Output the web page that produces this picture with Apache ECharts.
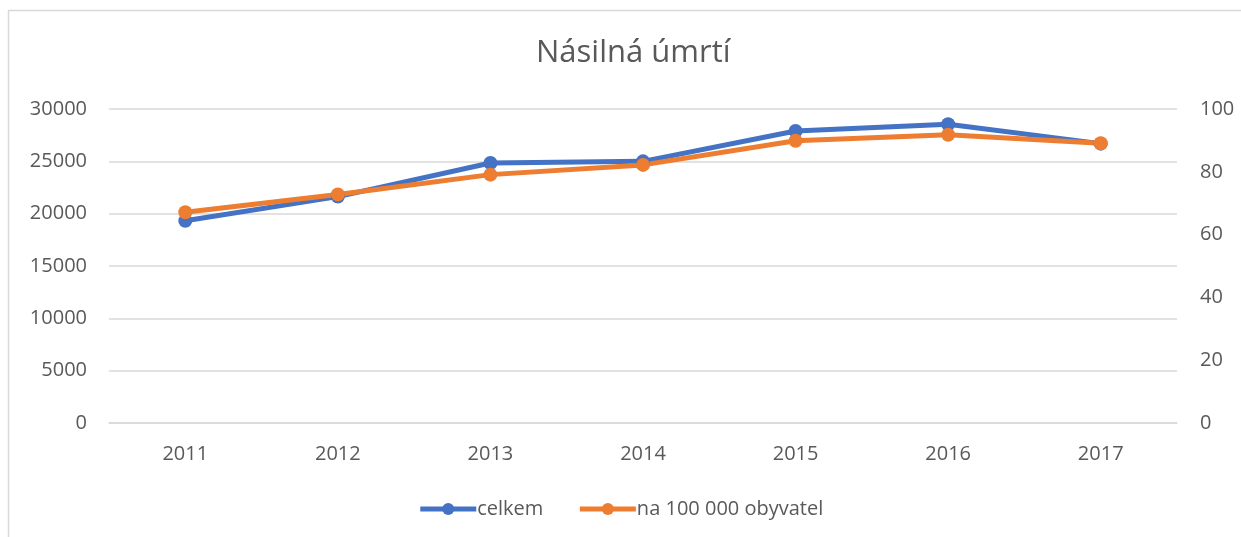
<!DOCTYPE html>
<html>
<head>
<meta charset="utf-8">
<script src="https://cdn.jsdelivr.net/npm/echarts@6/dist/echarts.min.js"></script>
<style>
  html, body { margin: 0; padding: 0; background: #fff; }
  #chart { width: 1241px; height: 537px; }
</style>
</head>
<body>
<div id="chart"></div>
<script>
  const years = ['2011', '2012', '2013', '2014', '2015', '2016', '2017']
  const celkem = [19330, 21630, 24840, 25000, 27900, 28540, 26690]
  const naSto = [67.1, 72.8, 79.1, 82.2, 89.9, 91.8, 89.1]

  const textColor = '#595959'
  const font = '"Open Sans", "Noto Sans", sans-serif'

  const chart = echarts.init(document.getElementById('chart'))
  chart.setOption({
    animation: false,
    textStyle: { fontFamily: font, color: textColor },
    graphic: [
      {
        type: 'rect',
        shape: { x: 8.5, y: 10.5, width: 1300, height: 600 },
        style: { fill: 'none', stroke: '#d9d9d9', lineWidth: 1.5 },
        silent: true,
      },
    ],
    title: {
      text: 'Násilná úmrtí',
      left: 531,
      top: 33,
      textStyle: { fontFamily: font, fontSize: 31, fontWeight: 'normal', color: textColor },
    },
    grid: { left: 109, right: 64, top: 109, bottom: 114 },
    legend: {
      bottom: 13,
      left: 'center',
      itemWidth: 56,
      itemHeight: 15,
      itemGap: 34,
      lineStyle: { width: 5 },
      textStyle: { fontFamily: font, fontSize: 20, color: textColor, padding: [0, 0, 0, -4] },
      data: ['celkem', 'na 100 000 obyvatel'],
    },
    xAxis: {
      type: 'category',
      data: years,
      axisLine: { lineStyle: { color: '#d9d9d9', width: 1.5 } },
      axisTick: { show: false },
      axisLabel: { color: textColor, fontSize: 20, fontFamily: font, margin: 21 },
    },
    yAxis: [
      {
        type: 'value',
        min: 0,
        max: 30000,
        interval: 5000,
        axisLine: { show: false },
        axisTick: { show: false },
        axisLabel: { color: textColor, fontSize: 20, fontFamily: font, margin: 22, formatter: (v) => String(v) },
        splitLine: { lineStyle: { color: '#d9d9d9', width: 1.5 } },
      },
      {
        type: 'value',
        min: 0,
        max: 100,
        interval: 20,
        axisLine: { show: false },
        axisTick: { show: false },
        axisLabel: { color: textColor, fontSize: 20, fontFamily: font, margin: 23 },
        splitLine: { show: false },
      },
    ],
    series: [
      {
        name: 'celkem',
        type: 'line',
        data: celkem,
        yAxisIndex: 0,
        symbol: 'circle',
        symbolSize: 14,
        color: '#4472c4',
        lineStyle: { width: 5 },
      },
      {
        name: 'na 100 000 obyvatel',
        type: 'line',
        data: naSto,
        yAxisIndex: 1,
        symbol: 'circle',
        symbolSize: 14,
        color: '#ed7d31',
        lineStyle: { width: 5 },
      },
    ],
  })
</script>
</body>
</html>
